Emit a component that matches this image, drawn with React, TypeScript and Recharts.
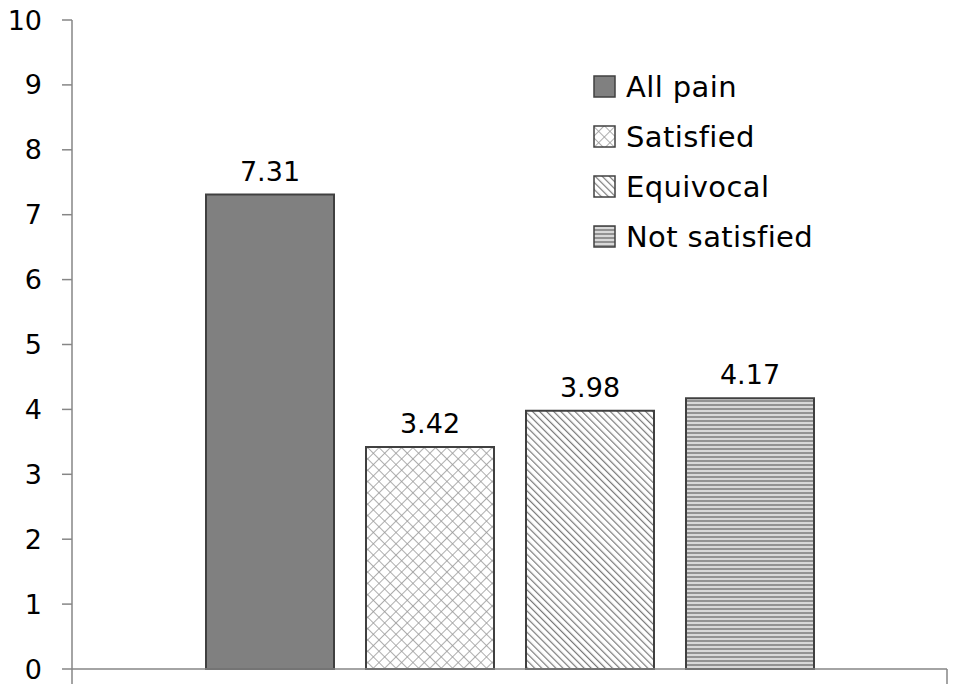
import { BarChart, Bar, XAxis, YAxis, LabelList } from 'recharts';

const categories = [''];
const seriesNames = ['All pain', 'Satisfied', 'Equivocal', 'Not satisfied'];
const seriesValues = [7.31, 3.42, 3.98, 4.17];
const yTicks = [0, 1, 2, 3, 4, 5, 6, 7, 8, 9, 10];

const seriesKeys = ['allPain', 'satisfied', 'equivocal', 'notSatisfied'];
const seriesFills = ['#808080', 'url(#pat-cross)', 'url(#pat-diag)', 'url(#pat-horiz)'];

const data = categories.map((name) => {
  const row: Record<string, string | number> = { name };
  seriesKeys.forEach((k, i) => {
    row[k] = seriesValues[i];
  });
  return row;
});

const FONT = '"DejaVu Sans", "Open Sans", sans-serif';
const AXIS = '#868686';

// Excel puts the category tick marks on the category boundaries, not the centre
function BoundaryTick(props: any) {
  const { x, y, payload } = props;
  const off = payload && payload.offset ? payload.offset : 437.5;
  return (
    <g>
      <line x1={x - off} y1={y} x2={x - off} y2={y + 15} stroke={AXIS} strokeWidth={1.5} />
      <line x1={x + off} y1={y} x2={x + off} y2={y + 15} stroke={AXIS} strokeWidth={1.5} />
    </g>
  );
}

// legend drawn as plain html over the chart, like Excel's floating legend box
function LegendBox() {
  return (
    <div
      style={{
        position: 'absolute',
        left: 593,
        top: 62,
        fontFamily: FONT,
        fontSize: 29,
        letterSpacing: 0.4,
        color: '#000',
      }}
    >
      {seriesNames.map((n, i) => (
        <div key={n} style={{ display: 'flex', alignItems: 'center', height: 50 }}>
          <svg width={24} height={24} style={{ marginRight: 9 }}>
            <rect x={1} y={1} width={21} height={21} fill={seriesFills[i]} stroke="#404040" strokeWidth={1.5} />
          </svg>
          <span>{n}</span>
        </div>
      ))}
    </div>
  );
}

export default function App() {
  return (
    <div style={{ position: 'absolute', left: 0, top: 0, width: 953, height: 684, background: '#fff' }}>
      <BarChart
        width={953}
        height={684}
        data={data}
        margin={{ top: 20, right: 6, left: 0, bottom: 0 }}
        barGap={32}
        barSize={128}
      >
        <defs>
          <pattern id="pat-cross" width={8} height={8} patternUnits="userSpaceOnUse" patternTransform="rotate(45)">
            <rect width={8} height={8} fill="#fff" />
            <line x1={0} y1={0} x2={0} y2={8} stroke="#9a9a9a" strokeWidth={1.6} />
            <line x1={0} y1={0} x2={8} y2={0} stroke="#9a9a9a" strokeWidth={1.6} />
          </pattern>
          <pattern id="pat-diag" width={5} height={5} patternUnits="userSpaceOnUse" patternTransform="rotate(-45)">
            <rect width={5} height={5} fill="#fff" />
            <line x1={0} y1={0} x2={0} y2={5} stroke="#7a7a7a" strokeWidth={2.4} />
          </pattern>
          <pattern id="pat-horiz" width={4} height={4} patternUnits="userSpaceOnUse">
            <rect width={4} height={4} fill="#d8d8d8" />
            <line x1={0} y1={1} x2={4} y2={1} stroke="#8a8a8a" strokeWidth={1.8} />
          </pattern>
        </defs>
        <XAxis
          dataKey="name"
          height={15}
          tickLine={false}
          tickSize={0}
          tickMargin={0}
          tick={BoundaryTick}
          stroke={AXIS}
          strokeWidth={1.5}
        />
        <YAxis
          domain={[0, 10]}
          ticks={yTicks}
          interval={0}
          width={72}
          tickSize={10}
          tickMargin={20}
          stroke={AXIS}
          strokeWidth={1.5}
          tick={{ fill: '#000', fontSize: 27, fontFamily: FONT }}
        />
        {seriesKeys.map((k, i) => (
          <Bar
            key={k}
            dataKey={k}
            name={seriesNames[i]}
            fill={seriesFills[i]}
            stroke="#404040"
            strokeWidth={2}
            isAnimationActive={false}
          >
            <LabelList
              dataKey={k}
              position="top"
              offset={14}
              formatter={(v: number) => Number(v).toFixed(2)}
              style={{ fill: '#000', fontSize: 27, fontFamily: FONT }}
            />
          </Bar>
        ))}
      </BarChart>
      <LegendBox />
    </div>
  );
}
